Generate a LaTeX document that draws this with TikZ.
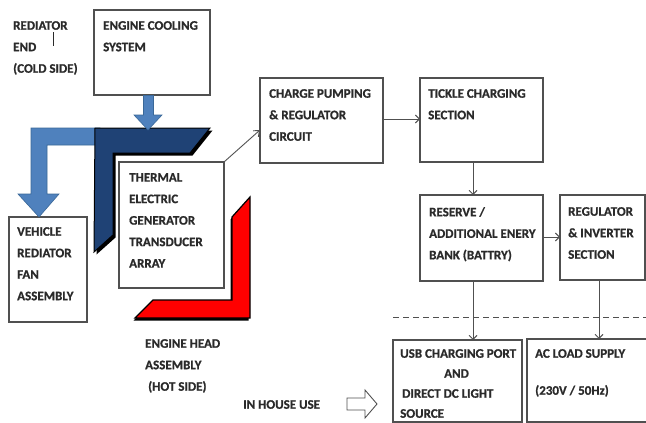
\documentclass[tikz,border=0pt]{standalone}
\usepackage{fontspec}
\setmainfont{Carlito}[FakeBold=0.8]
\usetikzlibrary{arrows.meta}
\definecolor{txt}{HTML}{2A2A2A}
\definecolor{boxline}{HTML}{505050}
\definecolor{lblue}{HTML}{4F81BD}
\definecolor{lblueline}{HTML}{3A6898}
\definecolor{dblue}{HTML}{1F4275}
\definecolor{hotred}{HTML}{FF0000}
\tikzset{
  blk/.style={draw=boxline, line width=1.1pt, fill=white},
  lbl/.style={anchor=north west, inner sep=0pt, align=left, text=txt,
    font=\fontsize{13}{21.5}\selectfont\bfseries},
  conn/.style={draw=boxline, line width=0.9pt, -{Straight Barb[length=4pt,width=8pt]}},
}
\begin{document}
\begin{tikzpicture}[x=1pt,y=-1pt]
\clip (0,0) rectangle (646,423);
\fill[white] (0,0) rectangle (646,423);

% boxes
\draw[blk] (94,10) rectangle (210,95);
\draw[blk] (9,217) rectangle (87,322);
\draw[blk] (260,78) rectangle (383,163);
\draw[blk] (420,78) rectangle (543,162);
\draw[blk] (420,195) rectangle (543,281);
\draw[blk] (560,195) rectangle (645,280);
\draw[blk] (393,340) rectangle (522,422);
\draw[blk] (527,339) rectangle (660,422);

% named connection points
\coordinate (tegtr) at (224,162);
\coordinate (cpl) at (260,130);
\coordinate (cpr) at (383,119);
\coordinate (tkl) at (420,119);
\coordinate (tkb) at (473,162);
\coordinate (rst) at (473,195);
\coordinate (rsr) at (543,237);
\coordinate (rgl) at (560,237);
\coordinate (rsb) at (473,281);
\coordinate (usbt) at (473,340);
\coordinate (rgb) at (599,280);
\coordinate (act) at (599,339);
\coordinate (dashl) at (393,317);
\coordinate (dashr) at (646,317);

% light blue bent arrow
\filldraw[fill=lblue, draw=lblueline, line width=0.6pt]
  (100,128) -- (31,128) -- (31,194) -- (18,194) -- (39,217) -- (59,194)
  -- (47,194) -- (47,145) -- (100,145) -- cycle;

% dark blue L shape with shadow
\fill[black, shift={(2.5,2.5)}]
  (95,128) -- (210,128) -- (190,153) -- (113,153) -- (113,235) -- (94,252) -- cycle;
\filldraw[fill=dblue, draw=black, line width=1pt]
  (95,128) -- (210,128) -- (190,153) -- (113,153) -- (113,235) -- (94,252) -- cycle;

% cooling arrow
\filldraw[fill=lblue, draw=lblueline, line width=0.6pt]
  (143.5,95.5) -- (153.5,95.5) -- (153.5,115) -- (162,115) -- (148,130)
  -- (134,115) -- (143.5,115) -- cycle;

% thermal electric generator box
\draw[blk] (119,162) rectangle (224,288);

% red L shape
\fill[black, shift={(-1.5,2.5)}]
  (250,197) -- (250,318) -- (135,318) -- (153,300) -- (232,300) -- (232,217) -- cycle;
\filldraw[fill=hotred, draw=black, line width=1.2pt]
  (250,197) -- (250,318) -- (135,318) -- (153,300) -- (232,300) -- (232,217) -- cycle;

% texts
\node[lbl] (t1) at (13,21) {REDIATOR\\END\\(COLD SIDE)};
\draw[txt, line width=0.9pt] (53,32) -- (53,46);
\node[lbl] (t2) at (103,21) {ENGINE COOLING\\SYSTEM};
\node[lbl] (t3) at (129,173) {THERMAL\\ELECTRIC\\GENERATOR\\TRANSDUCER\\ARRAY};
\node[lbl] (t4) at (17,227) {VEHICLE\\REDIATOR\\FAN\\ASSEMBLY};
\node[lbl] (t5) at (145,339) {ENGINE HEAD\\ASSEMBLY\\\hspace{3pt}(HOT SIDE)};
\node[lbl] (t6) at (243,400) {IN HOUSE USE};
\node[lbl] (t7) at (269,89) {CHARGE PUMPING\\\& REGULATOR\\CIRCUIT};
\node[lbl] (t8) at (428,89) {TICKLE CHARGING\\SECTION};
\node[lbl] (t9) at (429,207) {RESERVE /\\ADDITIONAL ENERY\\BANK (BATTRY)};
\node[lbl] (t10) at (568,207) {REGULATOR\\\& INVERTER\\SECTION};
\node[lbl, font=\fontsize{13}{20}\selectfont\bfseries] (t11) at (400,349)
  {USB CHARGING PORT\\\hspace{44pt}AND\\\hspace{2pt}DIRECT DC LIGHT\\SOURCE};
\node[lbl, font=\fontsize{13}{18.5}\selectfont\bfseries] (t12) at (535,349)
  {AC LOAD SUPPLY\\[18.5pt](230V / 50Hz)};

% open arrow
\draw[boxline, line width=0.9pt]
  (347,398) -- (365,398) -- (365,390) -- (377,404) -- (365,418) -- (365,410)
  -- (347,410) -- cycle;

% connectors
\draw[boxline, line width=0.9pt, -{Straight Barb[length=5pt,width=8pt]}] (tegtr) -- (cpl);
\draw[conn] (cpr) -- (tkl);
\draw[conn] (tkb) -- (rst);
\draw[conn] (rsr) -- (rgl);
\draw[conn] (rsb) -- (usbt);
\draw[conn] (rgb) -- (act);
\draw[boxline, line width=1pt, dash pattern=on 6pt off 4pt] (dashl) -- (dashr);
\end{tikzpicture}
\end{document}
